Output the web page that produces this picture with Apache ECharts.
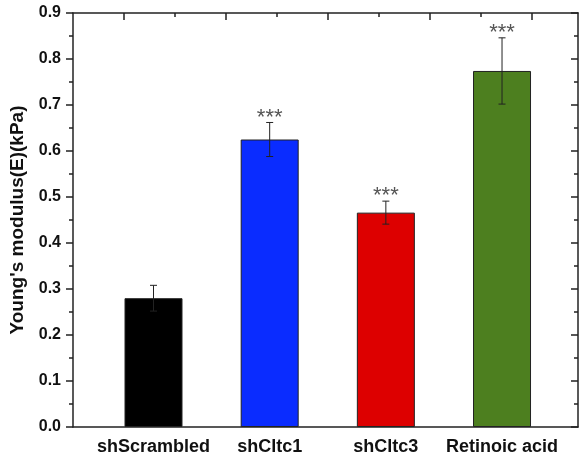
<!DOCTYPE html>
<html>
<head>
<meta charset="utf-8">
<script src="https://cdn.jsdelivr.net/npm/echarts@6/dist/echarts.min.js"></script>
<style>
  html, body { margin: 0; padding: 0; background: #fff; }
  #main { width: 580px; height: 461px; }
</style>
</head>
<body>
<div id="main"></div>
<script>
var categories = ['shScrambled', 'shCltc1', 'shCltc3', 'Retinoic acid'];
var values = [0.280, 0.625, 0.466, 0.774];
var errors = [0.028, 0.037, 0.025, 0.072];
var stars = ['', '***', '***', '***'];
var colors = ['#000000', '#0a2cff', '#dd0000', '#4d7f1f'];
var yTicks = [0, 0.1, 0.2, 0.3, 0.4, 0.5, 0.6, 0.7, 0.8, 0.9];

var myChart = echarts.init(document.getElementById('main'));
var font = 'Liberation Sans, Arial, sans-serif';
var positions = categories.map(function (c, i) { return i + 1; });

var barData = values.map(function (v, i) {
  return { value: [positions[i], v], itemStyle: { color: colors[i] } };
});
var errData = values.map(function (v, i) {
  return [positions[i], v, errors[i], i];
});

function makeGrid() {
  return { show: false, left: 73, right: 2, top: 13, bottom: 34, containLabel: false, outerBoundsMode: 'none' };
}
var axisColor = '#222';

var option = {
  animation: false,
  grid: [makeGrid(), makeGrid(), makeGrid()],
  xAxis: [
    {
      type: 'value', gridIndex: 0, position: 'bottom',
      min: 0.307, max: 4.654,
      axisLine: { show: true, onZero: false, lineStyle: { color: axisColor, width: 1.5 } },
      axisTick: { show: false },
      splitLine: { show: false },
      axisLabel: {
        customValues: positions,
        formatter: function (v) { return categories[Math.round(v) - 1] || ''; },
        fontFamily: font, fontWeight: 'bold', fontSize: 18, color: '#111', margin: 11
      }
    },
    {
      type: 'value', gridIndex: 1, position: 'top',
      min: 0, max: 9.902,
      axisLine: { show: true, onZero: false, lineStyle: { color: axisColor, width: 1.5 } },
      axisTick: { show: true, inside: true, length: 7, customValues: [1, 3, 5, 7, 9], lineStyle: { color: axisColor, width: 1.5 } },
      axisLabel: { show: false },
      splitLine: { show: false }
    },
    {
      type: 'value', gridIndex: 2, position: 'top',
      min: 0, max: 9.902,
      axisLine: { show: false, onZero: false },
      axisTick: { show: true, inside: true, length: 4, customValues: [2, 4, 6, 8], lineStyle: { color: axisColor, width: 1.5 } },
      axisLabel: { show: false },
      splitLine: { show: false }
    }
  ],
  yAxis: [
    {
      type: 'value', gridIndex: 0, position: 'left',
      min: yTicks[0], max: yTicks[yTicks.length - 1], interval: 0.1,
      name: "Young's modulus(E)(kPa)",
      nameLocation: 'middle', nameGap: 46,
      nameTextStyle: { fontFamily: font, fontWeight: 'bold', fontSize: 19, color: '#111' },
      axisLine: { show: true, onZero: false, lineStyle: { color: axisColor, width: 1.5 } },
      axisTick: { show: true, length: 7, lineStyle: { color: axisColor, width: 1.5 } },
      minorTick: { show: true, splitNumber: 2, length: 4, lineStyle: { color: axisColor, width: 1.5 } },
      splitLine: { show: false },
      axisLabel: {
        formatter: function (v) { return v.toFixed(1); },
        fontFamily: font, fontWeight: 'bold', fontSize: 16, color: '#111', margin: 12
      }
    },
    {
      type: 'value', gridIndex: 0, position: 'right',
      min: yTicks[0], max: yTicks[yTicks.length - 1], interval: 0.1,
      axisLine: { show: true, onZero: false, lineStyle: { color: axisColor, width: 1.5 } },
      axisTick: { show: true, inside: true, length: 7, lineStyle: { color: axisColor, width: 1.5 } },
      minorTick: { show: true, splitNumber: 2, length: 4, lineStyle: { color: axisColor, width: 1.5 } },
      splitLine: { show: false },
      axisLabel: { show: false }
    },
    { type: 'value', gridIndex: 1, show: false, min: 0, max: 1 },
    { type: 'value', gridIndex: 2, show: false, min: 0, max: 1 }
  ],
  series: [
    {
      type: 'bar',
      xAxisIndex: 0, yAxisIndex: 0,
      barWidth: 58,
      data: barData,
      itemStyle: { borderColor: '#222', borderWidth: 1 }
    },
    {
      type: 'custom',
      xAxisIndex: 0, yAxisIndex: 0,
      data: errData,
      z: 10,
      renderItem: function (params, api) {
        var x = api.value(0), v = api.value(1), e = api.value(2), idx = api.value(3);
        var top = api.coord([x, v + e]);
        var bot = api.coord([x, v - e]);
        var cap = 3.5;
        var style = { stroke: '#222', lineWidth: 1 };
        var children = [
          { type: 'line', shape: { x1: top[0], y1: top[1], x2: bot[0], y2: bot[1] }, style: style },
          { type: 'line', shape: { x1: top[0] - cap, y1: top[1], x2: top[0] + cap, y2: top[1] }, style: style },
          { type: 'line', shape: { x1: bot[0] - cap, y1: bot[1], x2: bot[0] + cap, y2: bot[1] }, style: style }
        ];
        if (stars[idx]) {
          children.push({
            type: 'text',
            x: top[0], y: top[1] + 6,
            style: {
              text: stars[idx], fill: '#555', font: '22px ' + font,
              align: 'center', verticalAlign: 'bottom'
            }
          });
        }
        return { type: 'group', children: children };
      }
    }
  ]
};
myChart.setOption(option);
</script>
</body>
</html>
